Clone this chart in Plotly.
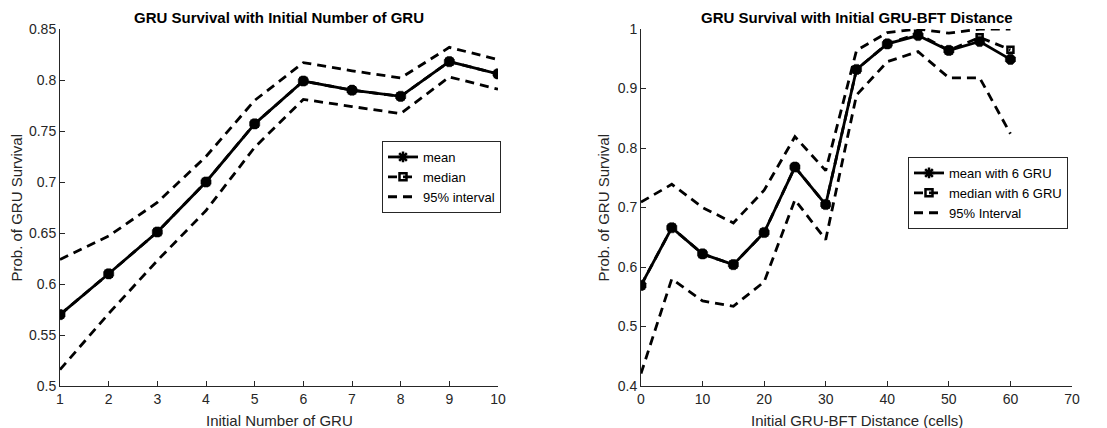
import plotly.graph_objects as go

W, H = 1107, 428

# Left panel data
n_gru = [1, 2, 3, 4, 5, 6, 7, 8, 9, 10]
mean_n = [0.570, 0.610, 0.651, 0.700, 0.757, 0.799, 0.790, 0.784, 0.818, 0.806]
median_n = [0.570, 0.610, 0.651, 0.700, 0.757, 0.799, 0.790, 0.784, 0.818, 0.806]
upper_n = [0.624, 0.647, 0.680, 0.725, 0.780, 0.817, 0.809, 0.802, 0.832, 0.820]
lower_n = [0.516, 0.571, 0.623, 0.672, 0.734, 0.781, 0.774, 0.767, 0.803, 0.791]

# Right panel data
dist = [0, 5, 10, 15, 20, 25, 30, 35, 40, 45, 50, 55, 60]
mean_d = [0.569, 0.666, 0.622, 0.604, 0.658, 0.768, 0.705, 0.932, 0.975, 0.989, 0.964, 0.979, 0.949]
median_d = [0.569, 0.666, 0.622, 0.604, 0.658, 0.768, 0.705, 0.932, 0.975, 0.992, 0.964, 0.986, 0.965]
upper_d = [0.709, 0.739, 0.700, 0.674, 0.729, 0.819, 0.762, 0.964, 0.994, 1.000, 0.993, 1.000, 1.000]
lower_d = [0.421, 0.580, 0.543, 0.534, 0.575, 0.713, 0.646, 0.889, 0.945, 0.962, 0.918, 0.918, 0.824]

left_ticks_y = [0.5, 0.55, 0.6, 0.65, 0.7, 0.75, 0.8, 0.85]
right_ticks_y = [0.4, 0.5, 0.6, 0.7, 0.8, 0.9, 1.0]
right_ticks_x = [0, 10, 20, 30, 40, 50, 60, 70]

FONT = "Liberation Sans, Arial, sans-serif"
DASH = "9px,6px"
BLACK = "black"
LW = 2.8

fig = go.Figure()

def add_panel(x, mean, median, upper, lower, xa, ya, names, lg):
    for yy in (upper, lower):
        fig.add_trace(go.Scatter(x=x, y=yy, mode="lines", xaxis=xa, yaxis=ya,
                                 line=dict(color=BLACK, width=LW, dash=DASH),
                                 showlegend=False, legend=lg))
    fig.add_trace(go.Scatter(x=x, y=median, mode="lines+markers", xaxis=xa, yaxis=ya,
                             line=dict(color=BLACK, width=LW, dash=DASH),
                             marker=dict(symbol="square-open", size=6, color=BLACK,
                                         line=dict(width=2.5, color=BLACK)),
                             showlegend=False, legend=lg))
    fig.add_trace(go.Scatter(x=x, y=mean, mode="lines+markers", xaxis=xa, yaxis=ya,
                             line=dict(color=BLACK, width=LW),
                             marker=dict(symbol="octagon", size=11, color=BLACK,
                                         line=dict(width=0.5, color=BLACK)),
                             showlegend=False, legend=lg))
    # legend entries
    fig.add_trace(go.Scatter(x=[None], y=[None], mode="lines+markers", xaxis=xa, yaxis=ya,
                             line=dict(color=BLACK, width=LW),
                             marker=dict(symbol="asterisk-open", size=9, color=BLACK,
                                         line=dict(width=2.5, color=BLACK)),
                             name=names[0], legend=lg))
    fig.add_trace(go.Scatter(x=[None], y=[None], mode="lines+markers", xaxis=xa, yaxis=ya,
                             line=dict(color=BLACK, width=LW, dash=DASH),
                             marker=dict(symbol="square-open", size=7, color=BLACK,
                                         line=dict(width=2.5, color=BLACK)),
                             name=names[1], legend=lg))
    fig.add_trace(go.Scatter(x=[None], y=[None], mode="lines", xaxis=xa, yaxis=ya,
                             line=dict(color=BLACK, width=LW, dash=DASH),
                             name=names[2], legend=lg))

add_panel(n_gru, mean_n, median_n, upper_n, lower_n, "x", "y",
          ["mean", "median", "95% interval"], "legend")
add_panel(dist, mean_d, median_d, upper_d, lower_d, "x2", "y2",
          ["mean with 6 GRU", "median with 6 GRU", "95% Interval"], "legend2")

AX = "#262626"
axis_common = dict(showline=True, linecolor=AX, linewidth=1, ticks="inside",
                   ticklen=5, tickcolor=AX, showgrid=False, zeroline=False,
                   automargin=False,
                   tickfont=dict(family=FONT, size=14, color=AX), mirror=False)

def py(v):
    return 1 - v / H

def px(v):
    return v / W

def label(text, x, y, size=15, bold=False, angle=0, color=AX):
    return dict(text=f"<b>{text}</b>" if bold else text, x=px(x), y=py(y),
                xref="paper", yref="paper", showarrow=False,
                xanchor="center", yanchor="middle", textangle=angle,
                font=dict(family=FONT, size=size, color=color))

fig.update_layout(
    width=W, height=H, margin=dict(l=0, r=0, t=0, b=0, autoexpand=False),
    paper_bgcolor="white", plot_bgcolor="white",
    xaxis=dict(domain=[px(60), px(498)], range=[1, 10], tickvals=n_gru,
               anchor="y", **axis_common),
    yaxis=dict(domain=[py(386), py(29)], range=[0.5, 0.85], tickvals=left_ticks_y,
               ticktext=[f"{v:g}" for v in left_ticks_y],
               anchor="x", **axis_common),
    xaxis2=dict(domain=[px(641), px(1072)], range=[0, 70], tickvals=right_ticks_x,
                anchor="y2", **axis_common),
    yaxis2=dict(domain=[py(386), py(29)], range=[0.4, 1.0], tickvals=right_ticks_y,
                ticktext=[f"{v:g}" for v in right_ticks_y],
                anchor="x2", **axis_common),
    legend=dict(x=px(382), y=py(141), xanchor="left", yanchor="top",
                bordercolor=AX, borderwidth=1, bgcolor="white",
                font=dict(family=FONT, size=13, color="black"),
                tracegroupgap=0, itemwidth=30),
    legend2=dict(x=px(908), y=py(157), xanchor="left", yanchor="top",
                 bordercolor=AX, borderwidth=1, bgcolor="white",
                 font=dict(family=FONT, size=13, color="black"),
                 tracegroupgap=0, itemwidth=30),
    annotations=[
        label("GRU Survival with Initial Number of GRU", 279, 18, bold=True, color="black"),
        label("GRU Survival with Initial GRU-BFT Distance", 856.5, 18, bold=True, color="black"),
        label("Initial Number of GRU", 279, 420),
        label("Initial GRU-BFT Distance (cells)", 856.5, 420),
        label("Prob. of GRU Survival", 16, 207.5, angle=-90),
        label("Prob. of GRU Survival", 603, 207.5, angle=-90),
    ],
    showlegend=True,
)

fig.write_html("out.html", config={"displayModeBar": False},
               post_script="document.body.style.margin='0';document.body.style.overflow='hidden';")
